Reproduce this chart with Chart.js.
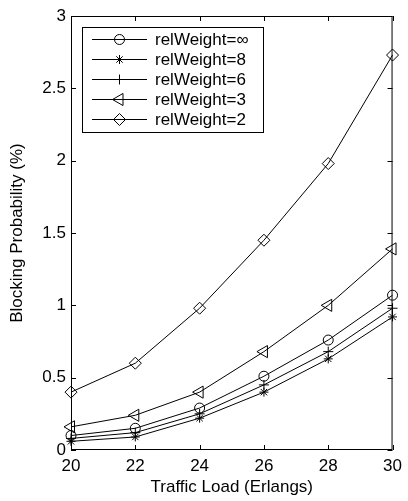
<!DOCTYPE html>
<html>
<head>
<meta charset="utf-8">
<script src="https://cdn.jsdelivr.net/npm/chart.js@4/dist/chart.umd.min.js"></script>
<style>
  html, body { margin: 0; padding: 0; background: #fff; }
</style>
</head>
<body>
<canvas id="blockingChart" width="408" height="501"></canvas>
<script>
// data
const trafficLoad = [20, 22, 24, 26, 28, 30];
const seriesNames = ['relWeight=\u221e', 'relWeight=8', 'relWeight=6', 'relWeight=3', 'relWeight=2'];
const relWeightInf = [0.10, 0.15, 0.29, 0.51, 0.76, 1.07];
const relWeight8 = [0.06, 0.09, 0.22, 0.40, 0.63, 0.92];
const relWeight6 = [0.08, 0.12, 0.25, 0.45, 0.68, 0.98];
const relWeight3 = [0.16, 0.24, 0.40, 0.68, 1.00, 1.39];
const relWeight2 = [0.40, 0.60, 0.98, 1.45, 1.98, 2.73];
const xTicks = [20, 22, 24, 26, 28, 30];
const yTicks = [0, 0.5, 1, 1.5, 2, 2.5, 3];

const FONT = { family: '"Liberation Sans", Arial, sans-serif', size: 17 };
const TICK_LEN = 5;

// marker per series (matlab o * + < d)
const markers = [
    { style: 'circle', radius: 5, rotation: 0 },
    { style: 'star', radius: 4.5, rotation: 0 },
    { style: 'cross', radius: 5, rotation: 0 },
    { style: 'triangle', radius: 7, rotation: 270 },
    { style: 'rectRot', radius: 6, rotation: 0 }
];
const seriesValues = [relWeightInf, relWeight8, relWeight6, relWeight3, relWeight2];

const datasets = seriesValues.map((vals, i) => ({
    label: seriesNames[i],
    data: vals.map((v, j) => ({ x: trafficLoad[j], y: v })),
    borderColor: '#000',
    borderWidth: 1,
    pointStyle: markers[i].style,
    pointRadius: markers[i].radius,
    pointRotation: markers[i].rotation,
    pointBorderColor: '#000',
    pointBackgroundColor: 'rgba(0,0,0,0)',
    pointBorderWidth: 1,
    tension: 0,
    fill: false,
    clip: false
}));

// box, inward ticks on all sides, matlab-like legend
const matlabAxes = {
    id: 'matlabAxes',
    afterDatasetsDraw(chart) {
        const { ctx, chartArea: a, scales } = chart;
        ctx.save();
        ctx.strokeStyle = '#000';
        ctx.lineWidth = 1;

        ctx.strokeRect(a.left + 0.5, a.top + 0.5, a.right - a.left - 1, a.bottom - a.top - 1);

        ctx.beginPath();
        scales.x.ticks.forEach(t => {
            const px = Math.round(scales.x.getPixelForValue(t.value)) + 0.5;
            ctx.moveTo(px, a.bottom);
            ctx.lineTo(px, a.bottom - TICK_LEN);
            ctx.moveTo(px, a.top);
            ctx.lineTo(px, a.top + TICK_LEN);
        });
        scales.y.ticks.forEach(t => {
            const py = Math.round(scales.y.getPixelForValue(t.value)) + 0.5;
            ctx.moveTo(a.left, py);
            ctx.lineTo(a.left + TICK_LEN, py);
            ctx.moveTo(a.right, py);
            ctx.lineTo(a.right - TICK_LEN, py);
        });
        ctx.stroke();

        // legend
        const box = { x: 82, y: 27, w: 181, h: 105 };
        ctx.fillStyle = '#fff';
        ctx.fillRect(box.x, box.y, box.w, box.h);
        ctx.strokeRect(box.x + 0.5, box.y + 0.5, box.w, box.h);

        ctx.font = FONT.size + 'px ' + FONT.family;
        ctx.textBaseline = 'middle';
        ctx.textAlign = 'left';

        chart.data.datasets.forEach((ds, i) => {
            const y = 39 + i * 20 + 0.5;
            ctx.beginPath();
            ctx.moveTo(92, y);
            ctx.lineTo(147, y);
            ctx.stroke();

            ctx.fillStyle = 'rgba(0,0,0,0)';
            Chart.helpers.drawPoint(ctx, {
                pointStyle: ds.pointStyle,
                radius: ds.pointRadius,
                rotation: ds.pointRotation,
                borderWidth: 1
            }, 119.5, y);

            ctx.fillStyle = '#000';
            ctx.fillText(ds.label, 155, y + 1);
        });

        ctx.restore();
    }
};

const ctx = document.getElementById('blockingChart').getContext('2d');

new Chart(ctx, {
    type: 'line',
    data: { datasets: datasets },
    options: {
        responsive: false,
        animation: false,
        devicePixelRatio: 1,
        layout: { padding: { top: 16, right: 10, left: 0, bottom: 0 } },
        plugins: {
            legend: { display: false },
            tooltip: { enabled: false }
        },
        scales: {
            x: {
                type: 'linear',
                min: 20,
                max: 30,
                afterBuildTicks: s => { s.ticks = xTicks.map(v => ({ value: v })); },
                afterFit: s => { s.height = 51; },
                grid: { display: false, drawTicks: false },
                border: { display: false },
                ticks: {
                    color: '#000',
                    font: FONT,
                    padding: 6,
                    maxRotation: 0,
                    autoSkip: false,
                    callback: v => String(v)
                },
                title: {
                    display: true,
                    text: 'Traffic Load (Erlangs)',
                    color: '#000',
                    font: FONT,
                    padding: { top: 0, bottom: 3 }
                }
            },
            y: {
                type: 'linear',
                min: 0,
                max: 3,
                afterBuildTicks: s => { s.ticks = yTicks.map(v => ({ value: v })); },
                afterFit: s => { s.width = 71; },
                grid: { display: false, drawTicks: false },
                border: { display: false },
                ticks: {
                    color: '#000',
                    font: FONT,
                    padding: 5,
                    autoSkip: false,
                    callback: v => String(v)
                },
                title: {
                    display: true,
                    text: 'Blocking Probability (%)',
                    color: '#000',
                    font: FONT,
                    padding: { top: 7, bottom: 0 }
                }
            }
        }
    },
    plugins: [matlabAxes]
});
</script>
</body>
</html>
